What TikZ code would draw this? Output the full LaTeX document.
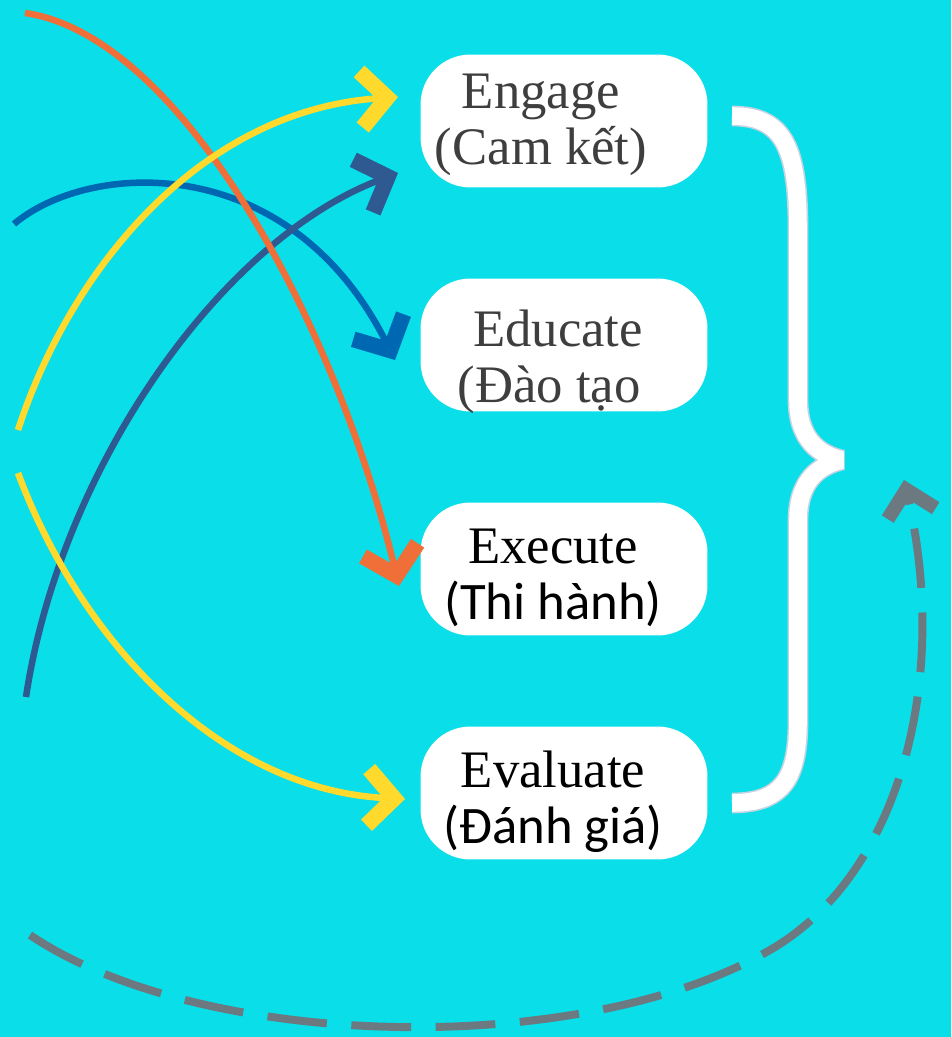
\documentclass[tikz,border=0pt]{standalone}
\usepackage{fontspec}
\setmainfont{Liberation Serif}
\newfontfamily\calib{Carlito}
\usetikzlibrary{arrows.meta, positioning}

\definecolor{bgcyan}{RGB}{9,222,233}
\definecolor{orangeA}{RGB}{240,110,56}
\definecolor{yellowA}{RGB}{255,217,44}
\definecolor{blueA}{RGB}{0,104,178}
\definecolor{navyA}{RGB}{47,90,145}
\definecolor{grayA}{RGB}{108,121,128}
\definecolor{textgray}{RGB}{62,62,62}
\definecolor{bracegray}{RGB}{196,212,224}

\tikzset{
  stage/.style={fill=white, rounded corners=1cm, minimum width=5.74cm, minimum height=2.66cm},
  caption/.style={align=center, inner sep=0pt, font=\fontsize{30}{32}\selectfont},
  flow/.style={line width=3.7pt, -{Straight Barb[length=15pt, width=32pt, line width=9pt, sharp]}},
  loop/.style={line width=4.5pt, dash pattern=on 34pt off 14pt, grayA,
    -{Straight Barb[length=14pt, width=28pt, line width=8pt, sharp]}},
  brace/.style={draw=bracegray, double=white, line width=0.9pt, double distance=10pt, line join=bevel}
}

\begin{document}
\begin{tikzpicture}[x=0.02cm, y=-0.02cm]
	\fill[bgcyan] (0,0) rectangle (951,1037);
	\useasboundingbox (0,0) rectangle (951,1037);

	% les quatre etapes
	\node[stage] (engage)	at (564,121) {};
	\node[stage] (educate)	at (564,345) {};
	\node[stage] (execute)	at (564,569) {};
	\node[stage] (evaluate)	at (564,793) {};

	\node[caption, text=textgray] (engageTxt)	at (541,125) {Engage\\(Cam kết)};
	\node[caption, text=textgray] (educateTxt)	at (558,362) {Educate\\(Đào tạo\phantom{)}};
	\node[caption] (executeTxt)	at (553,578) {Execute\\{\calib (Thi hành)}};
	\node[caption] (evaluateTxt)	at (553,802) {Evaluate\\{\calib (Đánh giá)}};

	% departs des fleches
	\coordinate (blueStart)		at (14,224);
	\coordinate (navyStart)		at (26,697);
	\coordinate (orangeStart)	at (25,13);
	\coordinate (yelTopStart)	at (18,430);
	\coordinate (yelBotStart)	at (18,473);
	\coordinate (loopStart)		at (30,935);

	% arrivees
	\coordinate (engageIn)		at (398,97);
	\coordinate (engageIn2)		at (398,173);
	\coordinate (educateIn)		at (395,360);
	\coordinate (executeIn)		at (399,586);
	\coordinate (evaluateIn)	at (405,799);
	\coordinate (loopEnd)		at (904,480);

	\draw[flow, blueA] (blueStart) .. controls (90,160) and (290,150) .. (educateIn);
	\draw[flow, navyA] (navyStart) .. controls (60,470) and (220,240) .. (engageIn2);
	\draw[flow, orangeA] (orangeStart) .. controls (180,35) and (335,320) .. (executeIn);
	\draw[flow, yellowA] (yelTopStart) .. controls (70,270) and (200,110) .. (engageIn);
	\draw[flow, yellowA] (yelBotStart) .. controls (80,640) and (220,790) .. (evaluateIn);

	% accolade
	\draw[brace] (732,116) .. controls (785,116) and (798,150) .. (798,230) -- (798,400)
		.. controls (798,440) and (820,455) .. (842,460)
		.. controls (820,465) and (798,480) .. (798,520) -- (798,720)
		.. controls (798,775) and (785,803) .. (732,803);

	% retour
	\draw[loop] (loopStart) .. controls (200,1050) and (580,1060) .. (770,950)
		.. controls (900,875) and (950,680) .. (loopEnd);
\end{tikzpicture}
\end{document}
